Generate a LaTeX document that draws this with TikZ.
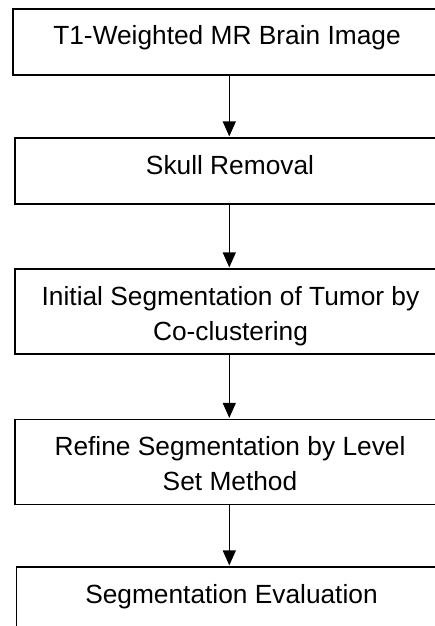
\documentclass[tikz,border=0pt]{standalone}
\usepackage{fontspec}
\setmainfont{Liberation Sans}
\usetikzlibrary{arrows.meta}
\begin{document}
\begin{tikzpicture}[x=1pt,y=-1pt,
  box/.style={draw=black, line width=1.8pt, fill=white, rectangle, inner sep=0pt, anchor=north},
  lbl/.style={anchor=north, inner sep=0pt, align=center, font=\fontsize{26.3}{35}\selectfont},
  arr/.style={line width=1.2pt, -{Triangle[width=13pt,length=15pt]}, shorten >=0.6pt}]
\useasboundingbox (0,0) rectangle (435,626);
\clip (0,0) rectangle (435,626);
\fill[white] (0,0) rectangle (435,626);
% boxes (right edges run past the page edge)
\node[box, minimum width=432.6pt, minimum height=66pt] (b1) at (229.3,8) {};
\node[box, minimum width=428.6pt, minimum height=66pt] (b2) at (229.3,137) {};
\node[box, minimum width=428.6pt, minimum height=85pt] (b3) at (229.3,268) {};
\node[box, minimum width=428.6pt, minimum height=85pt] (b4) at (229.3,418.5) {};
\node[box, minimum width=425.6pt, minimum height=80pt] (b5) at (229.3,566) {};
% texts
\node[lbl] (t1) at (227,25.5) {T1-Weighted MR Brain Image};
\node[lbl] (t2) at (230,155) {Skull Removal};
\node[lbl] (t3) at (230.5,286) {Initial Segmentation of Tumor by\\Co-clustering};
\node[lbl] (t4) at (230,436.5) {Refine Segmentation by Level\\Set Method};
\node[lbl] (t5) at (231.5,584) {Segmentation Evaluation};
% connectors
\draw[arr] (b1.south) -- (b2.north);
\draw[arr] (b2.south) -- (b3.north);
\draw[arr] (b3.south) -- (b4.north);
\draw[arr] (b4.south) -- (b5.north);
\end{tikzpicture}
\end{document}
